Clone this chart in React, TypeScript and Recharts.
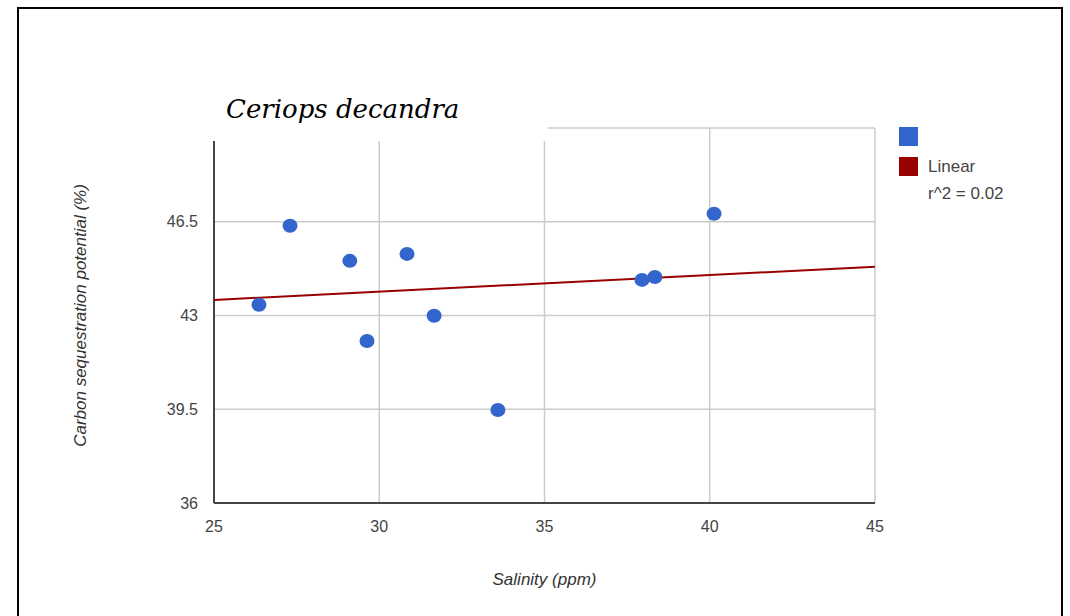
import React from 'react';
import {
  CartesianGrid,
  Scatter,
  ScatterChart,
  XAxis,
  YAxis,
} from 'recharts';

// salinity (ppm) per sample
const salinity = [26.36, 27.3, 29.11, 29.63, 30.84, 31.66, 33.59, 37.95, 38.34, 40.13];
// carbon sequestration potential (%) per sample
const carbon = [43.4, 46.35, 45.04, 42.05, 45.3, 42.99, 39.47, 44.33, 44.44, 46.8];

// linear trend end points
const trendX = [25, 45];
const trendY = [43.58, 44.82];

const xTicks = [25, 30, 35, 40, 45];
const yTicks = [36, 39.5, 43, 46.5, 50];

const points = salinity.map((x, i) => ({ x, y: carbon[i] }));
const trend = trendX.map((x, i) => ({ x, y: trendY[i] }));

const sans = 'Liberation Sans, Arial, sans-serif';
const tickStyle = { fontSize: 16, fill: '#444', fontFamily: sans };

const LegendBox = () => (
  <div style={{ position: 'absolute', left: 899, top: 127, fontFamily: sans, fontSize: 17, color: '#444' }}>
    <div style={{ height: 30 }}>
      <span style={{ display: 'inline-block', width: 19, height: 19, background: '#3366cc' }} />
    </div>
    <div style={{ display: 'flex', alignItems: 'flex-start' }}>
      <span style={{ display: 'inline-block', width: 19, height: 19, background: '#990000', marginRight: 10 }} />
      <div style={{ lineHeight: '27px', marginTop: -4 }}>
        <div>Linear</div>
        <div>r^2 = 0.02</div>
      </div>
    </div>
  </div>
);

const App = () => {
  return (
    <div style={{ position: 'absolute', left: 0, top: 0, width: 1070, height: 616, overflow: 'hidden', background: '#fff' }}>
      <ScatterChart
        width={1070}
        height={616}
        margin={{ top: 128, right: 195, left: 154, bottom: 83 }}
      >
        <CartesianGrid stroke='#ccc' strokeWidth={1.5} />
        <XAxis
          type='number'
          dataKey='x'
          domain={[25, 45]}
          ticks={xTicks}
          height={30}
          axisLine={{ stroke: '#444', strokeWidth: 2 }}
          tickLine={false}
          tick={tickStyle}
          tickMargin={12}
          label={{
            value: 'Salinity (ppm)',
            position: 'bottom',
            offset: 40,
            style: { fontSize: 17, fontStyle: 'italic', fill: '#333', fontFamily: sans },
          }}
        />
        <YAxis
          type='number'
          dataKey='y'
          domain={[36, 50]}
          ticks={yTicks}
          width={60}
          axisLine={{ stroke: '#444', strokeWidth: 2 }}
          tickLine={false}
          tick={tickStyle}
          tickMargin={10}
          label={{
            value: 'Carbon sequestration potential (%)',
            angle: -90,
            position: 'left',
            offset: 74,
            style: { fontSize: 17, fontStyle: 'italic', fill: '#333', textAnchor: 'middle', fontFamily: sans },
          }}
        />
        <Scatter
          data={trend}
          fill='#990000'
          line={{ stroke: '#990000', strokeWidth: 2 }}
          shape={() => null}
          isAnimationActive={false}
        />
        <Scatter
          data={points}
          fill='#3366cc'
          shape={(p: any) => <ellipse cx={p.cx} cy={p.cy} rx={7.5} ry={7} fill='#3366cc' />}
          isAnimationActive={false}
        />
      </ScatterChart>
      <LegendBox />
      {/* pasted caption box covering the original title */}
      <div
        style={{
          position: 'absolute',
          left: 20,
          top: 83,
          width: 528,
          height: 58,
          background: '#fff',
        }}
      >
        <div
          style={{
            position: 'absolute',
            left: 206,
            top: 11,
            fontFamily: 'DejaVu Serif, serif',
            fontStyle: 'italic',
            fontSize: 26,
            color: '#000',
            whiteSpace: 'nowrap',
          }}
        >
          Ceriops decandra
        </div>
      </div>
      {/* outer frame */}
      <div
        style={{
          position: 'absolute',
          left: 17,
          top: 7,
          width: 1042,
          height: 700,
          border: '2px solid #000',
        }}
      />
    </div>
  );
};

export default App;
